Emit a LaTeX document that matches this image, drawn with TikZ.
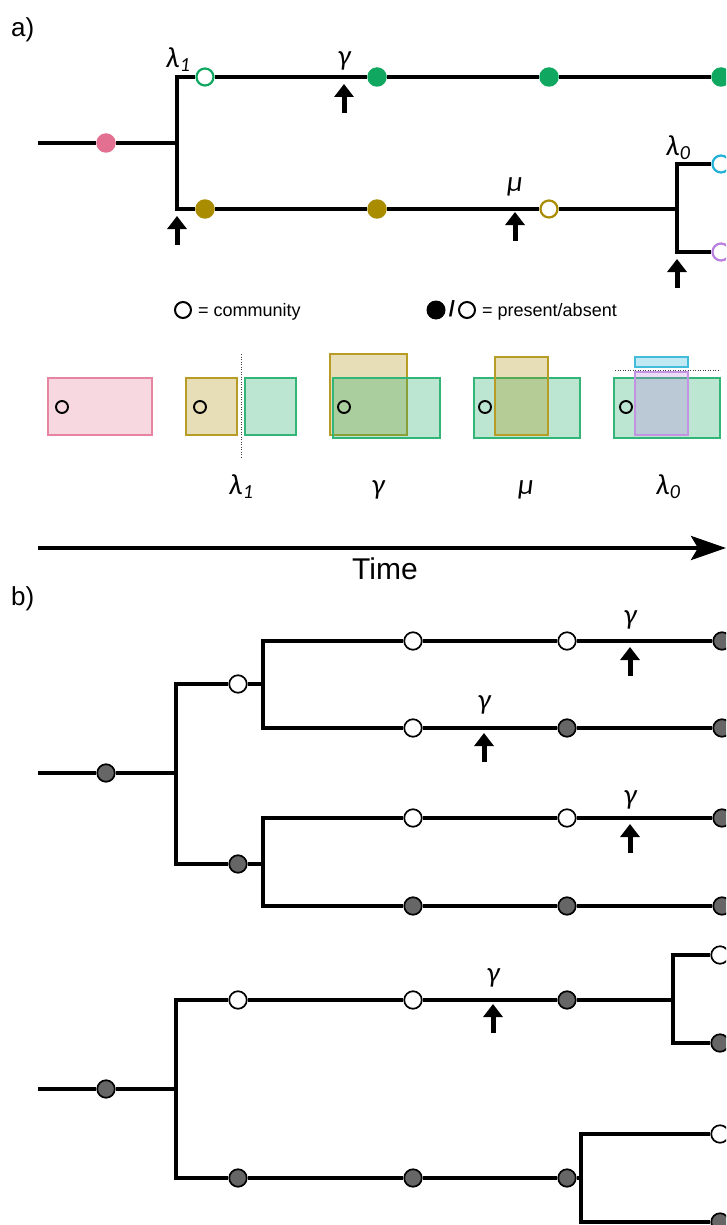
\documentclass[tikz,border=0pt]{standalone}
\usepackage{fontspec}
\setmainfont{Liberation Sans}
\newfontfamily\grk{Carlito}
\usetikzlibrary{arrows.meta}

\definecolor{cpink}{HTML}{E37090}
\definecolor{colive}{HTML}{AA8C00}
\definecolor{cgreen}{HTML}{10A860}
\definecolor{ccyan}{HTML}{22B0D6}
\definecolor{cpurple}{HTML}{B87FDE}
\definecolor{dgray}{HTML}{666666}

% Greek rate symbols with a lowered index
\newcommand\grklab[2]{{\grk\itshape #1\kern0.5pt\raisebox{-4pt}{\fontsize{20}{20}\selectfont #2}}}
% small upward event arrow below a branch
\newcommand\evtarrow[3]{%
  \coordinate (#1-t) at (#2,#3);
  \coordinate (#1-b) at (#2,#3+29);
  \draw[uparrow] (#1-b) -- (#1-t);}

\begin{document}
\begin{tikzpicture}[x=1pt,y=-1pt,
  branch/.style={line width=3.3pt, line join=miter},
  dotA/.style={circle, inner sep=0pt, minimum size=19.5pt, fill=#1},
  openA/.style={circle, inner sep=0pt, minimum size=17pt, draw=#1, line width=2.2pt, fill=white},
  bfill/.style={circle, inner sep=0pt, minimum size=17.5pt, draw=black, line width=1.7pt, fill=dgray},
  bopen/.style={circle, inner sep=0pt, minimum size=17.5pt, draw=black, line width=1.7pt, fill=white},
  uparrow/.style={line width=5pt, -{Triangle[length=13pt,width=19pt]}},
  niche/.style={draw=#1!85, fill=#1, fill opacity=0.28, line width=1.3pt},
  comm/.style={circle, inner sep=0pt, minimum size=12pt, draw=black, line width=1.9pt},
  cut/.style={draw=black!75, line width=1pt, dash pattern=on 1.3pt off 1.2pt},
  rate/.style={inner sep=0pt, font=\fontsize{29}{30}\selectfont},
  panel/.style={inner sep=0pt, anchor=base west, font=\fontsize{26}{28}\selectfont},
  legend/.style={inner sep=0pt, anchor=base west, font=\fontsize{18}{20}\selectfont},
]
\clip (0,0) rectangle (726,1225);
\fill[white] (0,0) rectangle (726,1225);

% ---------------- panel a: tree ----------------
\node[panel] (la) at (11,37) {a)};

\coordinate (aR) at (38,143);
\node[dotA=cpink] (aP) at (106,143) {};
\coordinate (aJ1) at (177,143);
\coordinate (aT1) at (177,77);
\coordinate (aB1) at (177,209);
\node[openA=cgreen] (aG0) at (205,77) {};
\node[dotA=cgreen] (aG1) at (377,77) {};
\node[dotA=cgreen] (aG2) at (549,77) {};
\node[dotA=cgreen] (aG3) at (721,77) {};
\node[dotA=colive] (aO0) at (205,209) {};
\node[dotA=colive] (aO1) at (377,209) {};
\node[openA=colive] (aO2) at (549,209) {};
\coordinate (aJ2) at (677,209);
\coordinate (aT2) at (677,164);
\coordinate (aB2) at (677,252);
\node[openA=ccyan] (aC) at (721,164) {};
\node[openA=cpurple] (aV) at (721,252) {};

\draw[branch] (aR) -- (aP) -- (aJ1);
\draw[branch] (aG0) -- (aT1) -- (aB1) -- (aO0);
\draw[branch] (aG0) -- (aG1) -- (aG2) -- (aG3);
\draw[branch] (aO0) -- (aO1) -- (aO2) -- (aJ2);
\draw[branch] (aC) -- (aT2) -- (aB2) -- (aV);

\node[rate] (tl1) at (178,60) {\grklab{λ}{1}};
\node[rate] (tg) at (344,61) {\grk\itshape γ};
\node[rate] (tm) at (515,187) {\grk\itshape μ};
\node[rate] (tl0) at (678,148) {\grklab{λ}{0}};
\evtarrow{ea1}{177}{216}
\evtarrow{ea2}{344}{84}
\evtarrow{ea3}{515}{212}
\evtarrow{ea4}{677}{259}

% ---------------- legend ----------------
\node[circle, inner sep=0pt, minimum size=16pt, draw=black, line width=2pt] (lgc) at (183,310) {};
\node[legend] (lgct) at (198,316) {= community};
\node[circle, inner sep=0pt, minimum size=19pt, fill=black] (lgf) at (436,310) {};
\node[inner sep=0pt, font=\fontsize{22}{22}\selectfont\bfseries] (lgs) at (452,309) {/};
\node[circle, inner sep=0pt, minimum size=16pt, draw=black, line width=2pt] (lgo) at (467,310) {};
\node[legend] (lgot) at (482,316) {= present/absent};

% ---------------- panel a: niche boxes ----------------
\path[niche=cpink] (48,378) rectangle (152,435);
\node[comm] (cm1) at (62,407) {};

\path[niche=colive] (186,378) rectangle (237,435);
\path[niche=cgreen] (245,378) rectangle (296,435);
\draw[cut] (241,354) -- (241,458);
\node[comm] (cm2) at (200,407) {};

\path[niche=colive] (330,354) rectangle (407,435);
\path[niche=cgreen] (333,378) rectangle (440,438);
\node[comm] (cm3) at (344,407) {};

\path[niche=cgreen] (474,378) rectangle (580,438);
\path[niche=colive] (495,357) rectangle (548,435);
\node[comm] (cm4) at (485,407) {};

\path[niche=cgreen] (614,378) rectangle (720,438);
\path[niche=ccyan] (635,357) rectangle (688,367);
\path[niche=cpurple] (635,372) rectangle (688,435);
\draw[cut] (615,370) -- (720,370);
\node[comm] (cm5) at (626,407) {};

\node[rate] (bl1) at (241,487) {\grklab{λ}{1}};
\node[rate] (bg) at (378,490) {\grk\itshape γ};
\node[rate] (bm) at (526,490) {\grk\itshape μ};
\node[rate] (bl0) at (668,487) {\grklab{λ}{0}};

% ---------------- time axis ----------------
\coordinate (ts) at (38,548);
\coordinate (te) at (726,548);
\draw[line width=4pt, -{Stealth[length=35pt,width=24pt,inset=7pt]}] (ts) -- (te);
\node[inner sep=0pt, anchor=base, font=\fontsize{30}{32}\selectfont] (time) at (385,579) {Time};

% ---------------- panel b: first clade ----------------
\node[panel] (lb) at (11,605) {b)};

\coordinate (bR1) at (38,773);
\node[bfill] (bP1) at (106,773) {};
\coordinate (bJ1) at (176,773);
\coordinate (bT1) at (176,684);
\coordinate (bB1) at (176,864);
\node[bopen] (bU) at (238,684) {};
\coordinate (bJU) at (263,684);
\coordinate (bTU) at (263,641);
\coordinate (bBU) at (263,728);
\node[bfill] (bL) at (238,864) {};
\coordinate (bJL) at (263,864);
\coordinate (bTL) at (263,818);
\coordinate (bBL) at (263,906);

\node[bopen] (r1a) at (413,641) {};
\node[bopen] (r1b) at (567,641) {};
\node[bfill] (r1c) at (722,641) {};
\node[bopen] (r2a) at (413,728) {};
\node[bfill] (r2b) at (567,728) {};
\node[bfill] (r2c) at (722,728) {};
\node[bopen] (r3a) at (413,818) {};
\node[bopen] (r3b) at (567,818) {};
\node[bfill] (r3c) at (722,818) {};
\node[bfill] (r4a) at (413,906) {};
\node[bfill] (r4b) at (567,906) {};
\node[bfill] (r4c) at (722,906) {};

\draw[branch] (bR1) -- (bP1) -- (bJ1);
\draw[branch] (bU) -- (bT1) -- (bB1) -- (bL);
\draw[branch] (bU) -- (bJU);
\draw[branch] (bL) -- (bJL);
\draw[branch] (r1a) -- (bTU) -- (bBU) -- (r2a);
\draw[branch] (r3a) -- (bTL) -- (bBL) -- (r4a);
\draw[branch] (r1a) -- (r1b) -- (r1c);
\draw[branch] (r2a) -- (r2b) -- (r2c);
\draw[branch] (r3a) -- (r3b) -- (r3c);
\draw[branch] (r4a) -- (r4b) -- (r4c);

\node[rate] (g1) at (630,620) {\grk\itshape γ};
\node[rate] (g2) at (484,705) {\grk\itshape γ};
\node[rate] (g3) at (630,800) {\grk\itshape γ};
\evtarrow{eb1}{630}{647}
\evtarrow{eb2}{484}{733}
\evtarrow{eb3}{630}{824}

% ---------------- panel b: second clade ----------------
\coordinate (cR) at (38,1089);
\node[bfill] (cP) at (106,1089) {};
\coordinate (cJ) at (176,1089);
\coordinate (cT) at (176,1000);
\coordinate (cB) at (176,1178);
\node[bopen] (c1a) at (238,1000) {};
\node[bopen] (c1b) at (413,1000) {};
\node[bfill] (c1c) at (567,1000) {};
\coordinate (cJ2) at (673,1000);
\coordinate (cT2) at (673,955);
\coordinate (cB2) at (673,1043);
\node[bopen] (c1t) at (720,955) {};
\node[bfill] (c1u) at (720,1043) {};
\node[bfill] (c2a) at (238,1178) {};
\node[bfill] (c2b) at (413,1178) {};
\node[bfill] (c2c) at (567,1178) {};
\coordinate (cJ3) at (581,1178);
\coordinate (cT3) at (581,1134);
\coordinate (cB3) at (581,1222);
\node[bopen] (c2t) at (720,1134) {};
\node[bfill] (c2u) at (720,1222) {};

\draw[branch] (cR) -- (cP) -- (cJ);
\draw[branch] (c1a) -- (cT) -- (cB) -- (c2a);
\draw[branch] (c1a) -- (c1b) -- (c1c) -- (cJ2);
\draw[branch] (c1t) -- (cT2) -- (cB2) -- (c1u);
\draw[branch] (c2a) -- (c2b) -- (c2c) -- (cJ3);
\draw[branch] (c2t) -- (cT3) -- (cB3) -- (c2u);

\node[rate] (g4) at (493,978) {\grk\itshape γ};
\evtarrow{ec1}{493}{1004}
\end{tikzpicture}
\end{document}
